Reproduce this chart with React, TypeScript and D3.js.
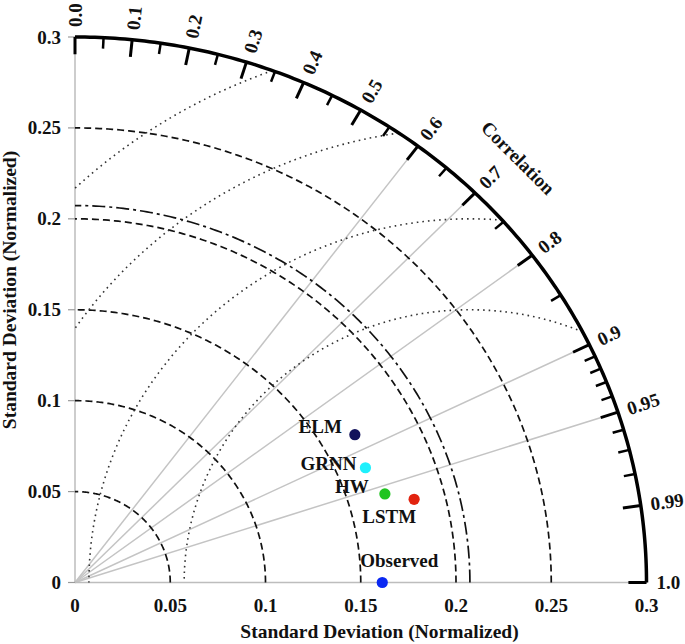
import React from "react";
import * as d3 from "d3";

// ---- data ----
const models = ["ELM", "GRNN", "HW", "LSTM", "Observed"];
const stdDevs = [0.1679, 0.165, 0.1698, 0.1838, 0.1613];
const correlations = [0.875, 0.924, 0.958, 0.9685, 1.0];
const refStd = 0.2073;

const stdTicks = [0, 0.05, 0.1, 0.15, 0.2, 0.25, 0.3];
const stdTickLabels = ["0", "0.05", "0.1", "0.15", "0.2", "0.25", "0.3"];
const stdArcs = [0.05, 0.1, 0.15, 0.2, 0.25];
const rmsArcs = [0.15, 0.2, 0.25, 0.3];
const corrLines = [0.6, 0.7, 0.8, 0.9, 0.95];
const corrMajor = [0, 0.1, 0.2, 0.3, 0.4, 0.5, 0.6, 0.7, 0.8, 0.9, 0.95, 0.99, 1.0];
const corrMajorLabels = ["0.0", "0.1", "0.2", "0.3", "0.4", "0.5", "0.6", "0.7", "0.8", "0.9", "0.95", "0.99", "1.0"];
const corrMinor = [0.05, 0.15, 0.25, 0.35, 0.45, 0.55, 0.65, 0.75, 0.85, 0.91, 0.92, 0.93, 0.94, 0.96, 0.97, 0.98];

// ---- styling / layout ----
const W = 685;
const H = 644;
const maxStd = 0.3;
const colors = ["#13135c", "#1ef0fc", "#1fc41f", "#e2230f", "#0a28f2"];
const labelOffsets: [number, number, string][] = [
  [-13, -2, "end"],
  [-9, 2, "end"],
  [-16, -1, "end"],
  [2, 24, "end"],
  [17, -16, "middle"],
];
const FONT = "'Liberation Serif', 'Times New Roman', serif";

export default function App() {
  const x = d3.scaleLinear().domain([0, maxStd]).range([75, 646.5]);
  const y = d3.scaleLinear().domain([0, maxStd]).range([582.5, 37]);

  const line = d3
    .line<[number, number]>()
    .x((d) => x(d[0]))
    .y((d) => y(d[1]));

  const polar = (r: number, t: number): [number, number] => [r * Math.cos(t), r * Math.sin(t)];

  const originArc = (r: number) =>
    line(d3.range(0, 181).map((i) => polar(r, (i / 180) * (Math.PI / 2))));

  const rmsArc = (R: number) => {
    const c = refStd;
    const cos1 = Math.max(-1, Math.min(1, (maxStd * maxStd - c * c - R * R) / (2 * c * R)));
    const cos2 = Math.max(-1, Math.min(1, -c / R));
    const p1 = Math.acos(cos1);
    const p2 = Math.acos(cos2);
    const n = 200;
    const pts: [number, number][] = d3.range(0, n + 1).map((i) => {
      const p = p1 + ((p2 - p1) * i) / n;
      return [c + R * Math.cos(p), R * Math.sin(p)];
    });
    return line(pts);
  };

  const tick = (c: number, len: number) => {
    const t = Math.acos(c);
    const a = polar(maxStd, t);
    const b = polar(maxStd - len, t);
    return { x1: x(a[0]), y1: y(a[1]), x2: x(b[0]), y2: y(b[1]) };
  };

  const corrLabelPos = (c: number, off: number) => {
    const t = Math.acos(c);
    const a = polar(maxStd, t);
    return { px: x(a[0]) + off * Math.cos(t), py: y(a[1]) - off * Math.sin(t), deg: (t * 180) / Math.PI };
  };

  const corrTitle = corrLabelPos(Math.cos(Math.PI / 4), 55);

  return (
    <svg
      width={W}
      height={H}
      style={{ position: "absolute", left: 0, top: 0, background: "#fff" }}
      fontFamily={FONT}
      fontWeight="bold"
    >
      {/* correlation grey lines */}
      {corrLines.map((c) => {
        const a = polar(maxStd, Math.acos(c));
        return (
          <line key={"cl" + c} x1={x(0)} y1={y(0)} x2={x(a[0])} y2={y(a[1])} stroke="#c4c4c4" strokeWidth={1.5} />
        );
      })}
      {/* axes */}
      <line x1={x(0)} y1={y(0)} x2={x(maxStd)} y2={y(0)} stroke="#bdbdbd" strokeWidth={1.5} />
      <line x1={x(0)} y1={y(0)} x2={x(0)} y2={y(maxStd)} stroke="#bdbdbd" strokeWidth={1.5} />
      {stdTicks.map((v, i) => (
        <g key={"yt" + v}>
          <line x1={x(0) - 7} x2={x(0)} y1={y(v)} y2={y(v)} stroke="#9a9a9a" strokeWidth={1.2} />
          <text x={61} y={y(v)} textAnchor="end" dominantBaseline="central" fontSize={19} fill="#111">
            {stdTickLabels[i]}
          </text>
          <text x={x(v)} y={612} textAnchor="middle" fontSize={19} fill="#111">
            {stdTickLabels[i]}
          </text>
        </g>
      ))}
      {/* std dashed arcs */}
      {stdArcs.map((r) => (
        <path key={"sa" + r} d={originArc(r) || ""} fill="none" stroke="#111" strokeWidth={1.7} strokeDasharray="7,4" />
      ))}
      {/* reference dash-dot arc */}
      <path d={originArc(refStd) || ""} fill="none" stroke="#111" strokeWidth={1.7} strokeDasharray="13,4,3,4" />
      {/* rms dotted arcs */}
      {rmsArcs.map((R) => (
        <path key={"ra" + R} d={rmsArc(R) || ""} fill="none" stroke="#333" strokeWidth={1.6} strokeDasharray="1.6,4" />
      ))}
      {/* outer arc */}
      <path d={originArc(maxStd) || ""} fill="none" stroke="#000" strokeWidth={3.5} />
      {corrMajor.map((c) => {
        const tk = tick(c, 0.0095);
        return <line key={"mj" + c} {...tk} stroke="#000" strokeWidth={3} />;
      })}
      {corrMinor.map((c) => {
        const tk = tick(c, 0.006);
        return <line key={"mn" + c} {...tk} stroke="#000" strokeWidth={2.5} />;
      })}
      {corrMajor.map((c, i) => {
        const p = corrLabelPos(c, 10);
        return (
          <text
            key={"cll" + c}
            transform={`translate(${p.px},${p.py}) rotate(${-p.deg})`}
            textAnchor="start"
            dominantBaseline="central"
            fontSize={19}
            fill="#111"
          >
            {corrMajorLabels[i]}
          </text>
        );
      })}
      <text
        transform={`translate(${corrTitle.px},${corrTitle.py}) rotate(45)`}
        textAnchor="middle"
        dominantBaseline="central"
        fontSize={19}
        fill="#111"
      >
        Correlation
      </text>
      {/* points */}
      {models.map((m, i) => {
        const p = polar(stdDevs[i], Math.acos(correlations[i]));
        const px = x(p[0]);
        const py = y(p[1]);
        const [dx, dy, anchor] = labelOffsets[i];
        return (
          <g key={m}>
            <circle cx={px} cy={py} r={5.6} fill={colors[i]} />
            <text x={px + dx} y={py + dy} textAnchor={anchor} fontSize={19} fill="#111">
              {m}
            </text>
          </g>
        );
      })}
      {/* axis titles */}
      <text x={379.5} y={638} textAnchor="middle" fontSize={19.5} fill="#111">
        Standard Deviation (Normalized)
      </text>
      <text transform="translate(16,290) rotate(-90)" textAnchor="middle" fontSize={19.5} fill="#111">
        Standard Deviation (Normalized)
      </text>
    </svg>
  );
}
